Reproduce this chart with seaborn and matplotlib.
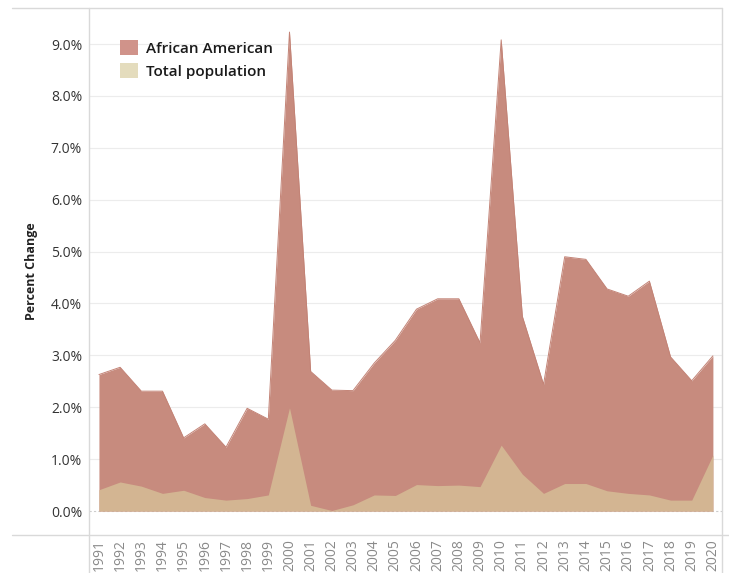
import matplotlib
matplotlib.use("Agg")
import matplotlib.pyplot as plt
import matplotlib.lines as mlines
from matplotlib.patches import Patch
import seaborn as sns
import pandas as pd

years = list(range(1991, 2021))
african_american = [2.63, 2.77, 2.31, 2.31, 1.41, 1.68, 1.23, 1.98, 1.77, 9.23,
                    2.69, 2.33, 2.32, 2.85, 3.29, 3.89, 4.09, 4.09, 3.24, 9.08,
                    3.75, 2.44, 4.90, 4.85, 4.28, 4.14, 4.43, 2.97, 2.51, 2.99]
total_population = [0.41, 0.56, 0.48, 0.34, 0.40, 0.26, 0.21, 0.24, 0.31, 1.99,
                    0.11, 0.01, 0.12, 0.31, 0.30, 0.51, 0.49, 0.50, 0.47, 1.27,
                    0.71, 0.34, 0.53, 0.53, 0.39, 0.34, 0.31, 0.21, 0.21, 1.08]
series_names = ["African American", "Total population"]
yticks = [0, 1, 2, 3, 4, 5, 6, 7, 8, 9]

df = pd.DataFrame({"Year": years, series_names[0]: african_american,
                   series_names[1]: total_population})

sns.set_theme(style="white")
plt.rcParams["font.family"] = ["Open Sans", "DejaVu Sans"]

fig = plt.figure(figsize=(7.29, 5.73), dpi=100)
ax = fig.add_axes([89/729, 38/573, (722-89)/729, (535-8)/573])

aa_fill = "#c78b7e"
tp_fill = "#d3b592"
aa_leg = "#d0938a"
tp_leg = "#e4dcbd"

ax.fill_between(df["Year"], 0, df[series_names[0]], color=aa_fill, linewidth=0, zorder=2)
sns.lineplot(data=df, x="Year", y=series_names[0], ax=ax, color="#c38376", linewidth=0.7, zorder=3)
ax.fill_between(df["Year"], 0, df[series_names[1]], color=tp_fill, linewidth=0, zorder=4)

ax.set_xlim(1990.53, 2020.43)
ax.set_ylim(-0.462, 9.694)
ax.set_yticks(yticks)
ax.set_yticklabels([f"{v:.1f}%" for v in yticks], fontsize=10, color="#333333")
ax.set_xticks(years)
ax.set_xticklabels([str(y) for y in years], rotation=90, fontsize=10, color="#8a8a8a", va="top")
ax.tick_params(axis="x", pad=3, length=0)
ax.tick_params(axis="y", pad=5, length=0)
for y in yticks[1:]:
    ax.axhline(y, color="#ececec", linewidth=0.8, zorder=0)
ax.axhline(0, color="#cccccc", linewidth=0.8, linestyle=(0, (2, 2)), zorder=1)

ax.set_xlabel("")
ax.set_ylabel("Percent Change", fontsize=9, fontweight="bold", color="#222222", labelpad=9)
for s in ax.spines.values():
    s.set_visible(False)

handles = [Patch(facecolor=aa_leg, edgecolor="none", label=series_names[0]),
           Patch(facecolor=tp_leg, edgecolor="none", label=series_names[1])]
leg = ax.legend(handles=handles, loc="upper left", bbox_to_anchor=(0.027, 0.966),
                frameon=False, fontsize=11, handlelength=1.2, handleheight=1.2,
                handletextpad=0.5, labelspacing=0.45)
for t in leg.get_texts():
    t.set_fontweight("semibold")
    t.set_color("#1a1a1a")

# frame lines (Tableau style)
lc = "#d9d9d9"
fig.add_artist(mlines.Line2D([12/729, 722/729], [1-8/573, 1-8/573], color=lc, linewidth=1))
fig.add_artist(mlines.Line2D([89/729, 89/729], [0, 1-8/573], color=lc, linewidth=1))
fig.add_artist(mlines.Line2D([722/729, 722/729], [0, 1-8/573], color=lc, linewidth=1))
fig.add_artist(mlines.Line2D([12/729, 729/729], [38/573, 38/573], color=lc, linewidth=1))

fig.savefig("out.png", dpi=100)
